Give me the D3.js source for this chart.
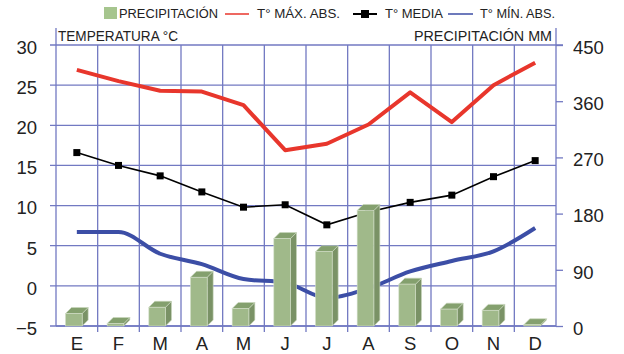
<!DOCTYPE html>
<html>
<head>
<meta charset="utf-8">
<script src="https://cdn.jsdelivr.net/npm/d3@7"></script>
<style>
  body { margin: 0; background: #fff; }
  svg text { font-family: "Liberation Sans", Arial, sans-serif; fill: #222; }
</style>
</head>
<body>
<div id="canvas"></div>
<script>
// DATA
const months = ["E", "F", "M", "A", "M", "J", "J", "A", "S", "O", "N", "D"];
const precip = [20, 4, 30, 78, 28, 140, 119, 185, 67, 27, 25, 2];
const tMax = [26.9, 25.5, 24.3, 24.2, 22.5, 16.9, 17.7, 20.1, 24.1, 20.4, 25.0, 27.8];
const tMedia = [16.6, 15.0, 13.7, 11.7, 9.8, 10.1, 7.6, 9.2, 10.4, 11.3, 13.6, 15.6];
const tMin = [6.7, 6.7, 4.0, 2.7, 0.85, 0.4, -1.5, -0.3, 1.8, 3.1, 4.3, 7.2];
const tempTicks = [-5, 0, 5, 10, 15, 20, 25, 30];
const precipTicks = [0, 90, 180, 270, 360, 450];

function drawGraph() {
  // DIMENSIONS
  const width = 624;
  const height = 354;
  const margin = { top: 45, bottom: 28, left: 56, right: 68 };
  const plot_width = width - margin.left - margin.right;
  const plot_height = height - margin.top - margin.bottom;

  const canvas = d3.select('#canvas')
    .append('svg')
    .attr('width', width)
    .attr('height', height);

  const plot = canvas.append('g')
    .attr("transform", `translate(${margin.left},${margin.top})`);

  // SCALES
  const idx = months.map((m, i) => i);
  const scaleX = d3.scaleBand(idx, [0, plot_width]);
  const scaleT = d3.scaleLinear([-5, 30], [plot_height, 0]);
  const scaleP = d3.scaleLinear([0, 450], [plot_height, 0]);
  const cx = i => scaleX(i) + scaleX.bandwidth() / 2;

  const gridColor = "#7279c2";

  // GRID
  plot.selectAll('line.hgrid').data(tempTicks).enter()
    .append('line')
    .attr('x1', -6)
    .attr('x2', d => d === 30 ? plot_width + 7 : plot_width)
    .attr('y1', d => scaleT(d))
    .attr('y2', d => scaleT(d))
    .style('stroke', gridColor)
    .style('stroke-width', 1.3);

  plot.selectAll('line.vgrid').data(idx.slice(1)).enter()
    .append('line')
    .attr('x1', d => scaleX(d))
    .attr('x2', d => scaleX(d))
    .attr('y1', 0)
    .attr('y2', plot_height + 6)
    .style('stroke', gridColor)
    .style('stroke-width', 1.3);

  // AXES
  const yAxL = d3.axisLeft(scaleT).tickValues(tempTicks).tickSize(0).tickPadding(19);
  const yAxR = d3.axisRight(scaleP).tickValues(precipTicks).tickSize(7).tickPadding(10);
  const xAx = d3.axisBottom(scaleX).tickFormat(i => months[i]).tickSize(0).tickPadding(10);

  const left = plot.append('g').call(yAxL);
  const right = plot.append('g').attr('transform', `translate(${plot_width},0)`).call(yAxR);
  const bottom = plot.append('g').attr('transform', `translate(0,${plot_height})`).call(xAx);

  [left, right, bottom].forEach(ax => {
    ax.select('.domain').remove();
    ax.selectAll('line').style('stroke', gridColor).style('stroke-width', 1.3);
    ax.selectAll('text')
      .style('font-family', '"Liberation Sans", Arial, sans-serif')
      .style('font-size', '18.5px')
      .style('fill', '#222');
  });
  left.selectAll('text').attr('dy', '0.45em');
  right.selectAll('text').attr('dy', '0.45em');
  bottom.selectAll('text').attr('dy', '0.74em');

  // axis lines
  [0, plot_width].forEach(x => {
    plot.append('line')
      .attr('x1', x).attr('x2', x)
      .attr('y1', -17).attr('y2', plot_height)
      .style('stroke', gridColor)
      .style('stroke-width', 1.3);
  });
  plot.append('line')
    .attr('x1', 0).attr('x2', plot_width)
    .attr('y1', plot_height).attr('y2', plot_height)
    .style('stroke', gridColor)
    .style('stroke-width', 1.3);

  // AXIS TITLES
  plot.append('text')
    .attr('x', 2).attr('y', -4)
    .attr('textLength', 120).attr('lengthAdjust', 'spacingAndGlyphs')
    .style('font-size', '14px')
    .text('TEMPERATURA °C');
  plot.append('text')
    .attr('x', plot_width - 4).attr('y', -4)
    .attr('text-anchor', 'end')
    .attr('textLength', 138).attr('lengthAdjust', 'spacingAndGlyphs')
    .style('font-size', '14px')
    .text('PRECIPITACIÓN MM');

  // LINES
  const lineMax = d3.line().x((d, i) => cx(i)).y(d => scaleT(d));
  const lineMin = d3.line().x((d, i) => cx(i)).y(d => scaleT(d)).curve(d3.curveMonotoneX);

  plot.append('path').datum(tMax)
    .attr('d', lineMax)
    .style('fill', 'none').style('stroke', '#e8362c').style('stroke-width', 4)
    .style('stroke-linejoin', 'round');

  plot.append('path').datum(tMin)
    .attr('d', lineMin)
    .style('fill', 'none').style('stroke', '#3c4ea6').style('stroke-width', 4);

  plot.append('path').datum(tMedia)
    .attr('d', lineMax)
    .style('fill', 'none').style('stroke', '#000').style('stroke-width', 1.6);

  plot.selectAll('rect.marker').data(tMedia).enter()
    .append('rect')
    .attr('x', (d, i) => cx(i) - 3.5)
    .attr('y', d => scaleT(d) - 3.5)
    .attr('width', 7).attr('height', 7)
    .style('fill', '#000');

  // BARS (3D columns, drawn over the lines)
  const bw = scaleX.bandwidth() * 0.4;
  const depth = 6;
  const bx = i => scaleX(i) + (scaleX.bandwidth() - bw - depth) / 2;

  const bars = plot.selectAll('g.bar').data(precip).enter()
    .append('g').attr('class', 'bar');

  bars.append('path')
    .attr('d', (d, i) => {
      const x = bx(i), y = scaleP(d), b = plot_height;
      return `M${x + bw},${y}L${x + bw + depth},${y - depth}L${x + bw + depth},${b - depth}L${x + bw},${b}Z`;
    })
    .style('fill', '#7a9266').style('stroke', '#c9d6bd').style('stroke-width', 0.6);

  bars.append('path')
    .attr('d', (d, i) => {
      const x = bx(i), y = scaleP(d);
      return `M${x},${y}L${x + depth},${y - depth}L${x + bw + depth},${y - depth}L${x + bw},${y}Z`;
    })
    .style('fill', '#84a06e').style('stroke', '#c9d6bd').style('stroke-width', 0.6);

  bars.append('rect')
    .attr('x', (d, i) => bx(i))
    .attr('y', d => scaleP(d))
    .attr('width', bw)
    .attr('height', d => plot_height - scaleP(d))
    .style('fill', '#a0b98a').style('stroke', '#d3dec8').style('stroke-width', 0.6);

  // LEGEND
  const legend = canvas.append('g').attr('transform', 'translate(0,18)');
  legend.append('rect').attr('x', 104).attr('y', -11).attr('width', 13).attr('height', 12).style('fill', '#a6c58e');
  legend.append('line').attr('x1', 225).attr('x2', 249).attr('y1', -4).attr('y2', -4)
    .style('stroke', '#e8362c').style('stroke-width', 1.5);
  legend.append('line').attr('x1', 353).attr('x2', 377).attr('y1', -4).attr('y2', -4)
    .style('stroke', '#000').style('stroke-width', 2);
  legend.append('rect').attr('x', 361).attr('y', -8).attr('width', 8).attr('height', 8).style('fill', '#000');
  legend.append('line').attr('x1', 448).attr('x2', 473).attr('y1', -4).attr('y2', -4)
    .style('stroke', '#3c4ea6').style('stroke-width', 1.5);

  const legendItems = [
    { x: 119, w: 99, t: 'PRECIPITACIÓN' },
    { x: 257, w: 83, t: 'T° MÁX. ABS.' },
    { x: 385, w: 58, t: 'T° MEDIA' },
    { x: 480, w: 75, t: 'T° MÍN. ABS.' }
  ];
  legend.selectAll('text.leg').data(legendItems).enter()
    .append('text')
    .attr('x', d => d.x)
    .attr('y', 0)
    .attr('textLength', d => d.w)
    .attr('lengthAdjust', 'spacingAndGlyphs')
    .style('font-size', '12px')
    .text(d => d.t);
}

drawGraph();
</script>
</body>
</html>
